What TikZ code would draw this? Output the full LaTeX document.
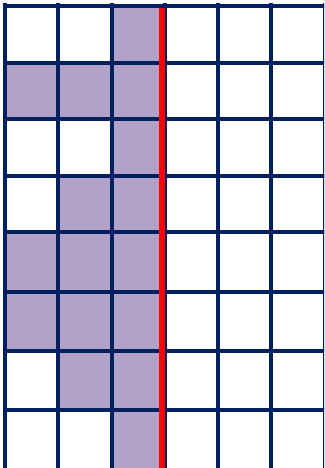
\documentclass[tikz,border=0pt]{standalone}
\definecolor{navy}{HTML}{002060}
\definecolor{lilac}{HTML}{B3A2C7}
\definecolor{redline}{HTML}{FF0000}
\tikzset{gridline/.style={draw=navy,line width=4pt},
  cellfill/.style={fill=lilac},
  marker/.style={draw=redline,line width=6pt}}
\begin{document}
\begin{tikzpicture}[x=1pt,y=-1pt]
\useasboundingbox (0,0) rectangle (324,468);
\clip (0,0) rectangle (324,468);
\def\xs{{4.5,58,112,165,218,271,324.5}}
\def\ys{{6,63,119,176,232,292,351,410,470.5}}
% shaded cells: row/columns list
\foreach \r/\c in {0/2, 1/0,1/1,1/2, 2/2, 3/1,3/2, 4/0,4/1,4/2, 5/0,5/1,5/2, 6/1,6/2, 7/2}{
  \pgfmathsetmacro{\xa}{\xs[\c]}
  \pgfmathsetmacro{\xb}{\xs[\c+1]}
  \pgfmathsetmacro{\ya}{\ys[\r]}
  \pgfmathsetmacro{\yb}{\ys[\r+1]}
  \fill[cellfill] (\xa,\ya) rectangle (\xb,\yb);
}
\foreach \i in {0,...,6}{
  \pgfmathsetmacro{\xx}{\xs[\i]}
  \draw[gridline] (\xx,3) -- (\xx,472);
}
\foreach \j in {0,...,8}{
  \pgfmathsetmacro{\yy}{\ys[\j]}
  \draw[gridline] (2.5,\yy) -- (326,\yy);
}
\draw[marker] (162,8) -- (162,472);
\end{tikzpicture}
\end{document}
